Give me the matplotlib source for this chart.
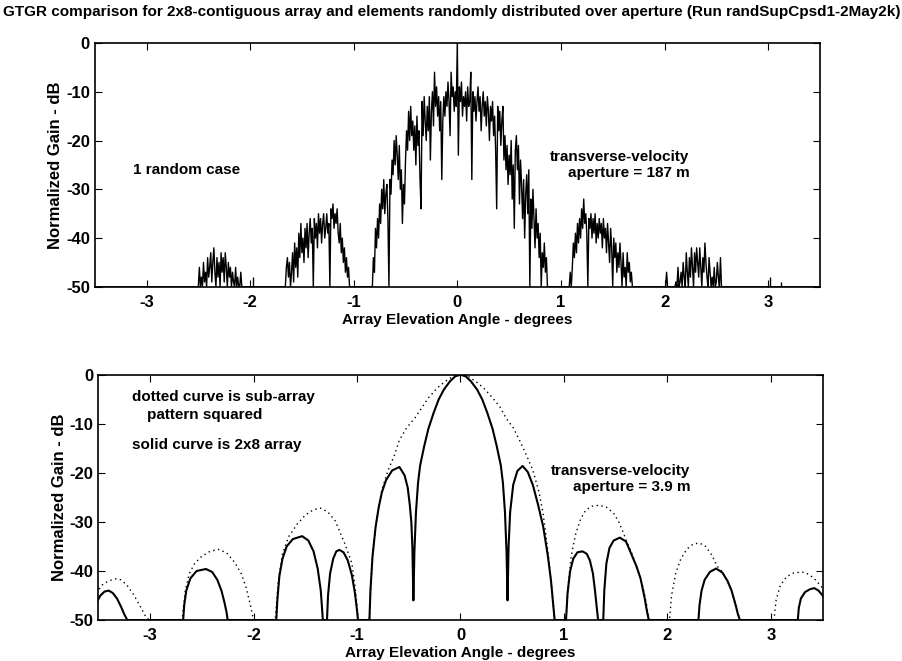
import numpy as np
import matplotlib
matplotlib.use("Agg")
import matplotlib.pyplot as plt

plt.rcParams['font.family'] = ['Liberation Sans', 'DejaVu Sans']
plt.rcParams['axes.unicode_minus'] = False

# ---- top panel: one random case (0.01 deg steps) ----
STEP = 0.01
main_start = -0.82
main_lobe = [
    -50, -44, -47, -38, -42, -36, -40, -33, -37, -30,
    -34, -28, -35, -31, -29, -36, -50, -28, -31, -24,
    -27, -20, -25, -19, -23, -28, -21, -30, -26, -37,
    -29, -33, -24, -18, -22, -14, -20, -13, -19, -16,
    -22, -17, -25, -15, -21, -18, -28, -34, -12, -19,
    -11, -16, -20, -13, -18, -11, -24, -14, -10, -17,
    -6, -13, -9, -15, -11, -18, -12, -28, -16, -11,
    -15, -10, -13, -8, -12, -19, -6, -11, -9, -14,
    -10, -13, 0, -23, -9, -12, -8, -15, -11, -13,
    -10, -16, -9, -13, -12, -6, -28, -10, -14, -11,
    -16, -12, -9, -14, -11, -18, -13, -10, -15, -12,
    -17, -11, -14, -20, -13, -16, -12, -19, -15, -22,
    -34, -13, -18, -14, -21, -16, -13, -24, -19, -26,
    -21, -29, -23, -27, -20, -32, -25, -38, -22, -19,
    -26, -21, -33, -24, -29, -36, -28, -40, -31, -27,
    -35, -26, -50, -32, -38, -30, -36, -42, -34, -40,
    -37, -44, -39, -50, -43, -46, -41, -47, -44, -50,
]
far_left_start = -2.50
far_left_lobe = [
    -50, -46, -50, -48, -50, -45, -49, -47, -50, -44,
    -48, -46, -43, -49, -45, -42, -47, -50, -44, -48,
    -45, -50, -43, -47, -44, -49, -43, -46, -50, -45,
    -48, -46, -50, -47, -49, -50, -46, -50, -48, -50,
    -50, -47, -50, -50, -50, -50,
]
near_left_start = -1.66
near_left_lobe = [
    -50, -46, -44, -48, -45, -50, -47, -43, -49, -41,
    -46, -42, -48, -39, -44, -37, -43, -40, -45, -38,
    -42, -37, -44, -39, -36, -41, -38, -50, -36, -40,
    -37, -42, -35, -39, -36, -41, -37, -35, -40, -38,
    -35, -39, -37, -50, -34, -36, -33, -38, -35, -37,
    -34, -39, -41, -37, -43, -40, -45, -42, -47, -44,
    -48, -46, -50, -50,
]
near_right_start = 1.08
near_right_lobe = [
    -50, -47, -50, -46, -41, -44, -39, -43, -37, -41,
    -36, -40, -34, -38, -32, -37, -35, -39, -50, -36,
    -38, -35, -40, -36, -39, -35, -41, -37, -40, -36,
    -39, -37, -42, -36, -40, -38, -43, -37, -41, -45,
    -38, -42, -50, -40, -44, -41, -47, -43, -46, -41,
    -45, -50, -43, -48, -46, -50, -43, -47, -45, -49,
    -47, -50, -50,
]
far_right_start = 2.02
far_right_lobe = [
    -47, -50, -50, -50, -50, -50, -50, -50, -50, -49,
    -50, -46, -50, -49, -47, -50, -45, -48, -50, -43,
    -47, -50, -44, -48, -42, -46, -50, -43, -47, -42,
    -45, -48, -42, -46, -50, -44, -47, -41, -45, -48,
    -50, -44, -47, -50, -48, -50, -46, -50, -49, -45,
    -48, -50, -44, -50,
]
# isolated small spikes (angle, dB)
spike_angles = [-1.97, 3.02, 3.12]
spike_values = [-48, -48, -49]

# ---- bottom panel: 2x8 array (solid) and sub-array pattern squared (dotted) ----
solid_angle = [
    -3.52, -3.48, -3.44, -3.40, -3.36, -3.32, -3.28, -3.25, -3.22,
    -2.68, -2.67, -2.65, -2.61, -2.55, -2.46, -2.40, -2.35, -2.31, -2.28, -2.26, -2.25,
    -1.78, -1.77, -1.75, -1.72, -1.68, -1.62, -1.53, -1.47, -1.42, -1.38, -1.35, -1.34, -1.33,
    -1.29, -1.28, -1.26, -1.23, -1.20, -1.17, -1.13, -1.09, -1.05, -1.02, -1.00, -0.99,
    -0.88, -0.87, -0.85, -0.82, -0.79, -0.76, -0.72, -0.66, -0.59, -0.54, -0.51, -0.49, -0.475, -0.465,
    -0.455, -0.445, -0.43, -0.41, -0.39, -0.35, -0.31, -0.26, -0.21, -0.16, -0.10, -0.05, 0.0,
    0.05, 0.10, 0.16, 0.21, 0.26, 0.31, 0.35, 0.39, 0.41, 0.43, 0.445, 0.455,
    0.465, 0.48, 0.51, 0.55, 0.60, 0.65, 0.70, 0.75, 0.80, 0.845, 0.875, 0.895, 0.91,
    1.02, 1.026, 1.035, 1.06, 1.09, 1.13, 1.18, 1.22, 1.25, 1.28, 1.30, 1.315, 1.33,
    1.38, 1.39, 1.41, 1.44, 1.48, 1.54, 1.60, 1.65, 1.70, 1.74, 1.78, 1.80, 1.82,
    2.30, 2.31, 2.33, 2.36, 2.41, 2.47, 2.53, 2.58, 2.62, 2.66, 2.68, 2.70,
    3.26, 3.27, 3.29, 3.33, 3.38, 3.42, 3.46, 3.50, 3.52,
]
solid_gain = [
    -46.5, -45.0, -44.2, -44.0, -44.5, -45.6, -47.3, -48.8, -50,
    -50, -47.0, -44.0, -41.5, -40.0, -39.6, -40.2, -41.8, -44.0, -46.5, -48.5, -50,
    -50, -46.0, -41.0, -37.5, -35.0, -33.5, -32.9, -33.8, -36.0, -39.5, -44.0, -47.0, -50,
    -50, -45.0, -40.5, -37.5, -36.0, -35.7, -36.2, -37.8, -40.8, -44.5, -48.0, -50,
    -50, -44.0, -37.0, -31.0, -27.0, -24.0, -21.5, -19.5, -18.8, -20.5, -23.0, -26.5, -30.0, -35.0,
    -46.0, -36.0, -28.0, -22.0, -18.5, -14.5, -11.0, -7.8, -5.0, -3.0, -1.3, -0.3, 0.0,
    -0.3, -1.3, -3.0, -5.0, -7.8, -11.0, -14.5, -18.5, -22.0, -28.0, -36.0, -46.0,
    -35.0, -28.0, -22.4, -19.6, -18.6, -19.8, -22.5, -26.5, -31.0, -37.0, -42.0, -46.5, -50,
    -50, -47.8, -44.5, -40.0, -37.5, -36.2, -36.0, -36.5, -37.8, -40.5, -44.0, -47.0, -50,
    -50, -44.0, -38.5, -35.3, -33.8, -33.2, -34.0, -36.5, -39.0, -41.5, -45.5, -48.0, -50,
    -50, -47.0, -44.0, -41.8, -40.2, -39.5, -40.3, -42.0, -44.0, -47.0, -48.7, -50,
    -50, -47.5, -45.6, -44.3, -43.7, -43.5, -44.0, -45.0, -45.8,
]
dotted_angle = [
    -3.52, -3.46, -3.40, -3.33, -3.28, -3.22, -3.16, -3.10, -3.05, -3.01,
    -2.69, -2.66, -2.62, -2.57, -2.50, -2.42, -2.34, -2.26, -2.18, -2.12, -2.07, -2.03, -2.00,
    -1.79, -1.76, -1.72, -1.66, -1.58, -1.50, -1.42, -1.35, -1.28, -1.21, -1.12, -1.05, -1.02, -1.00, -0.99,
    -0.88, -0.87, -0.85, -0.82, -0.79, -0.76, -0.70, -0.64, -0.59, -0.52, -0.44, -0.36, -0.31, -0.22,
    -0.15, -0.08, 0.0, 0.08, 0.15, 0.22, 0.31, 0.38, 0.44, 0.51, 0.57, 0.64, 0.70, 0.76, 0.80,
    0.845, 0.875, 0.895, 0.91,
    1.02, 1.04, 1.07, 1.11, 1.16, 1.21, 1.27, 1.34, 1.41, 1.48, 1.53, 1.57, 1.61, 1.66, 1.71, 1.76,
    1.80, 1.82,
    2.02, 2.04, 2.08, 2.13, 2.19, 2.25, 2.31, 2.37, 2.43, 2.48, 2.53, 2.58, 2.62, 2.66, 2.70,
    3.03, 3.05, 3.09, 3.15, 3.22, 3.30, 3.37, 3.43, 3.48, 3.52,
]
dotted_gain = [
    -44.5, -42.8, -42.0, -41.6, -41.8, -43.0, -44.8, -47.0, -49.0, -50,
    -50, -44.0, -40.5, -38.5, -37.0, -36.0, -35.6, -36.3, -38.3, -40.5, -43.5, -47.0, -50,
    -50, -42.0, -36.5, -33.0, -30.5, -28.6, -27.5, -27.2, -28.0, -29.8, -34.3, -38.4, -43.0, -47.0, -50,
    -50, -44.0, -37.0, -31.0, -27.0, -23.5, -19.5, -16.5, -13.3, -10.8, -8.8, -6.3, -4.7, -2.6,
    -1.4, -0.4, 0.0, -0.4, -1.4, -2.6, -4.7, -6.5, -8.8, -10.8, -13.3, -16.5, -19.5, -24.0, -28.5,
    -36.0, -42.0, -46.5, -50,
    -50, -43.0, -37.0, -32.7, -29.5, -27.6, -26.8, -26.6, -27.0, -28.2, -30.0, -32.0, -34.2, -36.6,
    -39.5, -43.0, -47.0, -50,
    -50, -45.0, -40.5, -37.5, -35.5, -34.5, -34.3, -35.0, -36.8, -39.0, -40.2, -42.0, -44.0, -47.0, -50,
    -50, -46.0, -43.0, -41.2, -40.4, -40.2, -40.7, -41.8, -43.0, -44.0,
]

x_ticks = [-3, -2, -1, 0, 1, 2, 3]
y_ticks = [0, -10, -20, -30, -40, -50]


def lobe_angles(start, values):
    return [round(start + STEP * i, 3) for i in range(len(values))]


# assemble the top trace, the curve sits on the -50 dB floor between lobes
pieces = [
    (lobe_angles(far_left_start, far_left_lobe), far_left_lobe),
    (lobe_angles(near_left_start, near_left_lobe), near_left_lobe),
    (lobe_angles(main_start, main_lobe), main_lobe),
    (lobe_angles(near_right_start, near_right_lobe), near_right_lobe),
    (lobe_angles(far_right_start, far_right_lobe), far_right_lobe),
]
top_x, top_y = [-3.5], [-50]
for ang, val in pieces:
    top_x += [ang[0] - STEP] + ang + [ang[-1] + STEP]
    top_y += [-50] + val + [-50]
top_x.append(3.5)
top_y.append(-50)

fig = plt.figure(figsize=(9.02, 6.61), dpi=100)
ax1 = fig.add_axes([0.105, 0.566, 0.804, 0.369])
ax2 = fig.add_axes([0.109, 0.062, 0.803, 0.371])

ax1.plot(top_x, top_y, color='black', linewidth=1.0)
ax1.vlines(spike_angles, -50, spike_values, color='black', linewidth=1.0)
ax1.text(-3.13, -26, '1 random case', fontsize=11, fontweight='bold', va='center')
ax1.text(2.24, -25, 'transverse-velocity\naperture = 187 m', fontsize=11,
         fontweight='bold', va='center', ha='right', multialignment='right',
         linespacing=1.2)

ax2.plot(solid_angle, solid_gain, color='black', linewidth=1.5)
ax2.plot(dotted_angle, dotted_gain, color='black', linewidth=1.0, linestyle=(0, (1, 2.5)))
ax2.text(-3.17, -4.5, 'dotted curve is sub-array', fontsize=11, fontweight='bold', va='center')
ax2.text(-3.03, -8.2, 'pattern squared', fontsize=11, fontweight='bold', va='center')
ax2.text(-3.17, -14.3, 'solid curve is 2x8 array', fontsize=11, fontweight='bold', va='center')
ax2.text(2.22, -21.2, 'transverse-velocity\naperture = 3.9 m', fontsize=11,
         fontweight='bold', va='center', ha='right', multialignment='right',
         linespacing=1.2)

for ax in (ax1, ax2):
    ax.set_xlim(-3.5, 3.5)
    ax.set_ylim(-50, 0)
    ax.set_xticks(x_ticks)
    ax.set_yticks(y_ticks)
    ax.tick_params(direction='in', top=True, right=True, length=5, labelsize=12)
    ax.tick_params(axis='x', pad=6)
    for lab in ax.get_xticklabels() + ax.get_yticklabels():
        lab.set_fontweight('bold')
    ax.set_xlabel('Array Elevation Angle - degrees', fontsize=11, fontweight='bold', labelpad=2)
    ax.set_ylabel('Normalized Gain - dB', fontsize=12, fontweight='bold', labelpad=2)
    for sp in ax.spines.values():
        sp.set_linewidth(1.2)

fig.text(0.003, 0.982, 'GTGR comparison for 2x8-contiguous array and elements randomly distributed '
         'over aperture (Run randSupCpsd1-2May2k)', fontsize=11, fontweight='bold', va='center')

fig.savefig('out.png', dpi=100)
